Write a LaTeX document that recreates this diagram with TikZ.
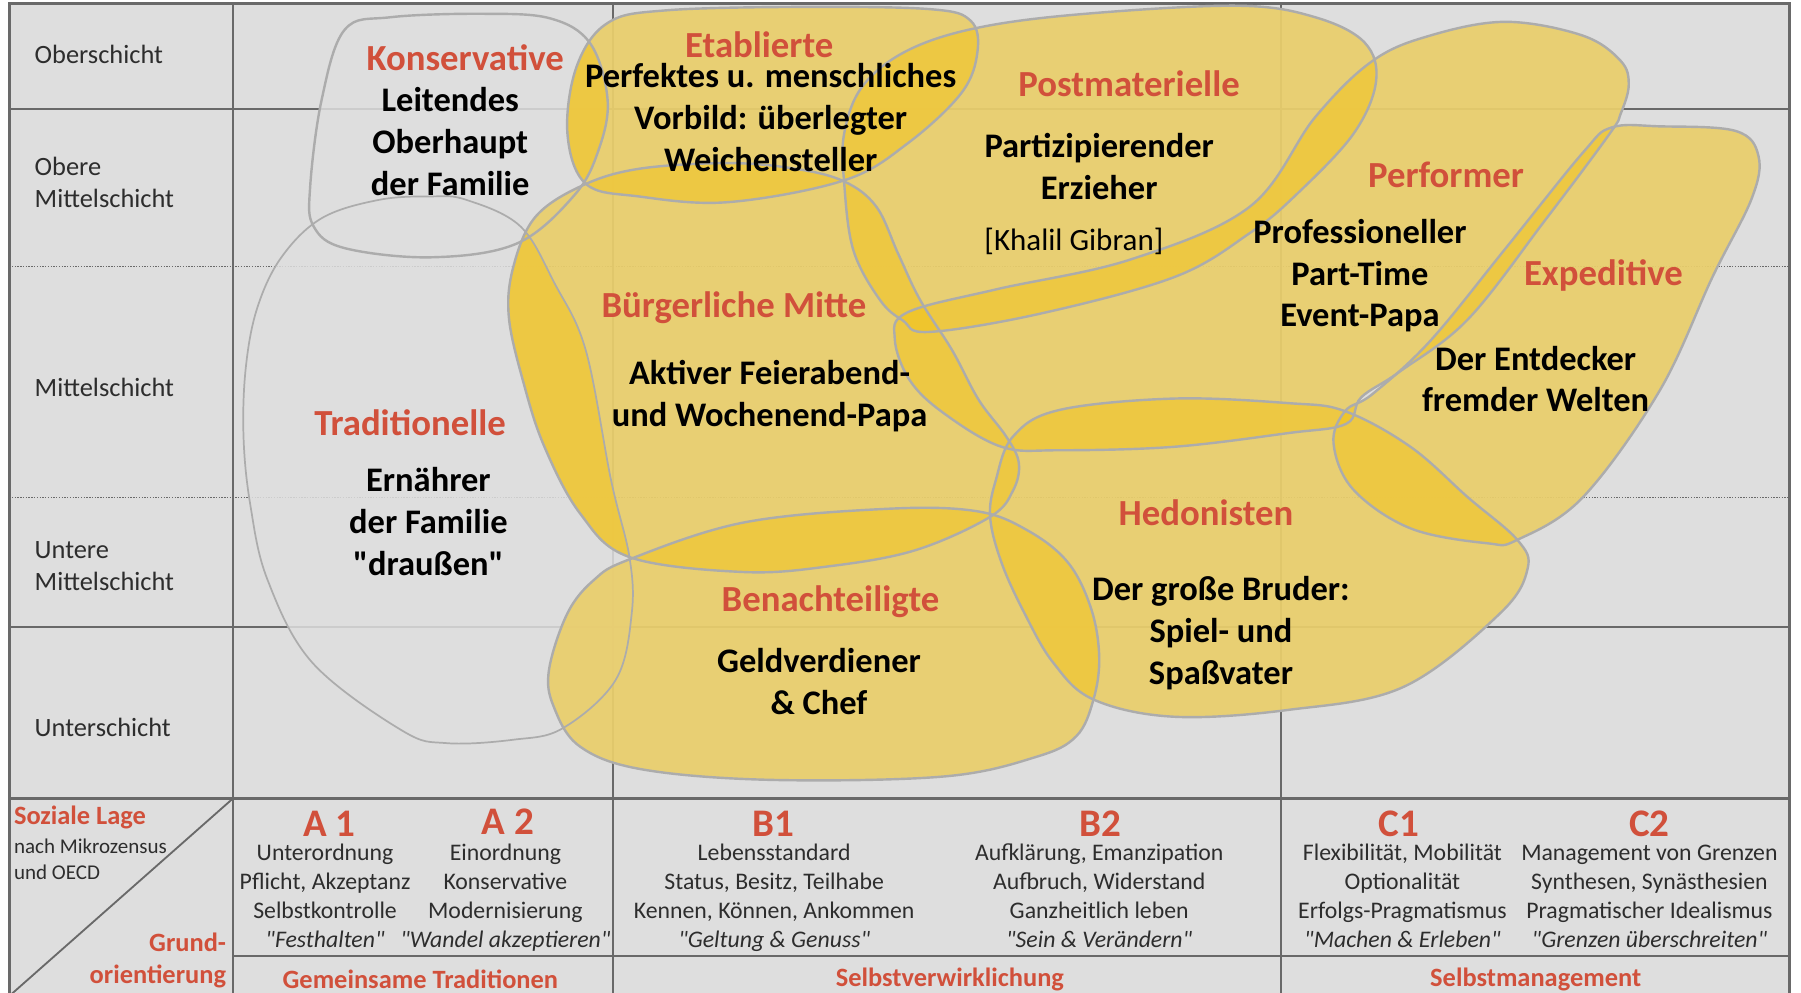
\documentclass[tikz,border=0pt]{standalone}
\usepackage{fontspec}
\setmainfont{Carlito}[Ligatures=TeXOff]
\usetikzlibrary{positioning}
\definecolor{bgc}{RGB}{222,222,222}
\definecolor{gridc}{RGB}{105,105,105}
\definecolor{edgec}{RGB}{172,172,172}
\definecolor{goldc}{RGB}{242,195,28}
\definecolor{redc}{RGB}{209,80,59}
\definecolor{labc}{RGB}{45,45,45}

\newcommand\shKons{plot[smooth cycle,tension=.6] coordinates {(300,26) (340,15) (420,12) (479,16) (514,38) (529,87) (521,131) (500,170) (450,212) (376,224) (300,216) (273,197) (270,163) (280,87)}}
\newcommand\shTrad{plot[smooth cycle,tension=.6] coordinates {(376,171) (406,174) (453,197) (483,247) (510,305) (532,418) (548,485) (550,534) (536,592) (490,634) (447,644) (389,647) (350,636) (272,577) (233,505) (218,440) (212,380) (214,320) (224,268) (245,224) (280,190) (330,174)}}
\newcommand\shEtab{plot[smooth cycle,tension=.6] coordinates {(529,20) (580,9) (700,6) (810,8) (845,18) (851,45) (837,81) (790,125) (735,157) (634,176) (556,171) (510,160) (494,116) (502,58)}}
\newcommand\shPost{plot[smooth cycle,tension=.6] coordinates {(852,24) (945,12) (1078,5) (1145,15) (1188,37) (1198,71) (1178,117) (1128,170) (1088,203) (1023,241) (906,273) (809,289) (786,279) (766,261) (743,218) (735,160) (735,116) (751,75) (790,44)}}
\newcommand\shPerf{plot[smooth cycle,tension=.6] coordinates {(1195,53) (1245,31) (1311,19) (1378,31) (1411,53) (1418,74) (1411,99) (1401,117) (1345,192) (1278,278) (1218,324) (1185,346) (1172,369) (1122,377) (1022,389) (922,392) (872,389) (822,360) (792,331) (779,295) (790,272) (867,252) (984,226) (1088,180) (1145,102)}}
\newcommand\shExpe{plot[smooth cycle,tension=.6] coordinates {(1403,111) (1445,110) (1511,114) (1531,136) (1525,173) (1491,241) (1445,340) (1378,433) (1321,470) (1295,473) (1228,460) (1178,426) (1161,386) (1171,358) (1195,343) (1245,297) (1311,216) (1378,133)}}
\newcommand\shBM{plot[smooth cycle,tension=.6] coordinates {(447,232) (466,189) (506,162) (556,147) (634,142) (693,147) (735,158) (763,180) (782,221) (801,261) (829,305) (852,348) (876,380) (887,403) (882,427) (862,450) (797,479) (722,493) (647,498) (548,485) (505,447) (474,389) (456,334) (443,276)}}
\newcommand\shHedo{plot[smooth cycle,tension=.6] coordinates {(882,380) (922,357) (1022,347) (1122,351) (1171,358) (1228,389) (1278,433) (1321,470) (1330,495) (1306,534) (1222,598) (1122,618) (1022,624) (952,609) (917,577) (892,534) (872,490) (862,450) (867,418)}}
\newcommand\shBena{plot[smooth cycle,tension=.6] coordinates {(494,534) (517,505) (548,487) (647,455) (772,443) (850,445) (895,462) (930,490) (950,530) (957,572) (952,609) (937,641) (902,659) (822,676) (672,679) (560,670) (505,650) (482,615) (478,583)}}

\begin{document}
\begin{tikzpicture}[x=1pt,y=-1pt,
  grd/.style={draw=gridc,line width=1.6},
  dotgrd/.style={draw=gridc,line width=1,dash pattern=on 1.2pt off 1.2pt},
  cover/.style={fill=bgc,fill opacity=.85},
  gold/.style={fill=goldc,fill opacity=.55},
  rim/.style={draw=edgec,line width=2.1},
  milieu/.style={inner sep=0,text=redc,font=\bfseries\fontsize{32}{38}\selectfont},
  papa/.style={inner sep=0,align=center,font=\bfseries\fontsize{30}{36.5}\selectfont},
  schicht/.style={inner sep=0,anchor=west,align=left,text=labc,font=\fontsize{23}{28}\selectfont},
  code/.style={inner sep=0,text=redc,font=\bfseries\fontsize{34}{40}\selectfont},
  werte/.style={inner sep=0,align=center,text=labc,font=\fontsize{20.7}{25}\selectfont},
  achse/.style={inner sep=0,text=redc,font=\bfseries\fontsize{23}{28}\selectfont}]
\useasboundingbox (0,0) rectangle (1568,864);
\clip (0,0) rectangle (1568,864);
\fill[bgc] (8,3) rectangle (1558,900);
\draw[grd] (8,95) -- (1558,95) (8,546) -- (1558,546) (203,832) -- (1558,832);
\draw[dotgrd] (8,232) -- (1558,232) (8,433) -- (1558,433);
\draw[grd] (203,3) -- (203,900) (534,3) -- (534,900) (1115,3) -- (1115,900);
\draw[grd] (203,695) -- (6,869);
\draw[grd,line width=2.6] (8,695) -- (1558,695);
\draw[gridc,line width=2.6] (8,3) rectangle (1558,900);

\fill[cover] \shKons; \fill[cover] \shTrad; \fill[cover] \shEtab;
\fill[cover] \shPost; \fill[cover] \shPerf; \fill[cover] \shExpe;
\fill[cover] \shBM; \fill[cover] \shHedo; \fill[cover] \shBena;
\fill[gold] \shEtab; \fill[gold] \shPost; \fill[gold] \shPerf;
\fill[gold] \shExpe; \fill[gold] \shBM; \fill[gold] \shHedo;
\fill[gold] \shBena;
\begin{scope}
\clip \shKons; \fill[gold] \shEtab;
\end{scope}
\begin{scope}
\clip \shTrad; \fill[gold] \shBM;
\end{scope}
\draw[rim] \shKons; \draw[rim,line width=1.5] \shTrad; \draw[rim] \shEtab;
\draw[rim] \shPost; \draw[rim] \shPerf; \draw[rim] \shExpe;
\draw[rim] \shBM; \draw[rim] \shHedo; \draw[rim] \shBena;

\node[schicht] (ober) at (30,47) {Oberschicht};
\node[schicht] (obmit) at (30,159) {Obere\\Mittelschicht};
\node[schicht] (mit) at (30,337) {Mittelschicht};
\node[schicht] (unmit) at (30,493) {Untere\\Mittelschicht};
\node[schicht] (unter) at (30,633) {Unterschicht};

\node[milieu] (konsT) at (405,50) {Konservative};
\node[papa] (konsX) at (392,123) {Leitendes\\Oberhaupt\\der Familie};
\node[milieu] (etabT) at (661,39) {Etablierte};
\node[papa] (etabX) at (671,102) {Perfektes u. menschliches\\Vorbild: überlegter\\Weichensteller};
\node[milieu] (postT) at (983,73) {Postmaterielle};
\node[papa] (postX) at (957,145) {Partizipierender\\Erzieher};
\node[inner sep=0,font=\fontsize{27}{32}\selectfont] (postQ) at (935,210) {[Khalil Gibran]};
\node[milieu] (perfT) at (1259,152) {Performer};
\node[papa] (perfX) at (1184,240) {Professioneller\\Part-Time\\Event-Papa};
\node[milieu] (expeT) at (1396,240) {Expeditive};
\node[papa] (expeX) at (1337,330) {Der Entdecker\\fremder Welten};
\node[milieu] (bmT) at (639,268) {Bürgerliche Mitte};
\node[papa] (bmX) at (670,345) {Aktiver Feierabend-\\und Wochenend-Papa};
\node[milieu] (tradT) at (357,368) {Traditionelle};
\node[papa] (tradX) at (373,454) {Ernährer\\der Familie\\"draußen"};
\node[milieu] (hedoT) at (1050,446) {Hedonisten};
\node[papa] (hedoX) at (1063,551) {Der große Bruder:\\Spiel- und\\Spaßvater};
\node[milieu] (benaT) at (723,524) {Benachteiligte};
\node[papa] (benaX) at (713,593) {Geldverdiener\\\& Chef};

\node[achse,anchor=west] (lage) at (12,712) {Soziale Lage};
\node[inner sep=0,anchor=west,align=left,text=labc,font=\fontsize{18.3}{22}\selectfont] (quelle) at (12,748) {nach Mikrozensus\\und OECD};
\node[achse,anchor=east] (grund) at (197,820) {Grund-};
\node[achse,anchor=east] (orient) at (197,850) {orientierung};

\node[code] (a1) at (287,717) {A 1};
\node[code] (a2) at (442,715) {A 2};
\node[code] (b1) at (673,717) {B1};
\node[code] (b2) at (958,717) {B2};
\node[code] (c1) at (1218,717) {C1};
\node[code] (c2) at (1436,717) {C2};
\node[werte] (a1w) at (283,782) {\strut Unterordnung\\Pflicht, Akzeptanz\\Selbstkontrolle\\\textit{"Festhalten"}\strut};
\node[werte] (a2w) at (440,782) {\strut Einordnung\\Konservative\\Modernisierung\\\textit{"Wandel akzeptieren"}\strut};
\node[werte] (b1w) at (674,782) {\strut Lebensstandard\\Status, Besitz, Teilhabe\\Kennen, Können, Ankommen\\\textit{"Geltung \& Genuss"}\strut};
\node[werte] (b2w) at (957,782) {\strut Aufklärung, Emanzipation\\Aufbruch, Widerstand\\Ganzheitlich leben\\\textit{"Sein \& Verändern"}\strut};
\node[werte] (c1w) at (1221,782) {\strut Flexibilität, Mobilität\\Optionalität\\Erfolgs-Pragmatismus\\\textit{"Machen \& Erleben"}\strut};
\node[werte] (c2w) at (1436,782) {\strut Management von Grenzen\\Synthesen, Synästhesien\\Pragmatischer Idealismus\\\textit{"Grenzen überschreiten"}\strut};

\node[achse] (gem) at (366,853) {Gemeinsame Traditionen};
\node[achse] (selbstv) at (827,853) {Selbstverwirklichung};
\node[achse] (selbstm) at (1337,853) {Selbstmanagement};
\end{tikzpicture}
\end{document}
